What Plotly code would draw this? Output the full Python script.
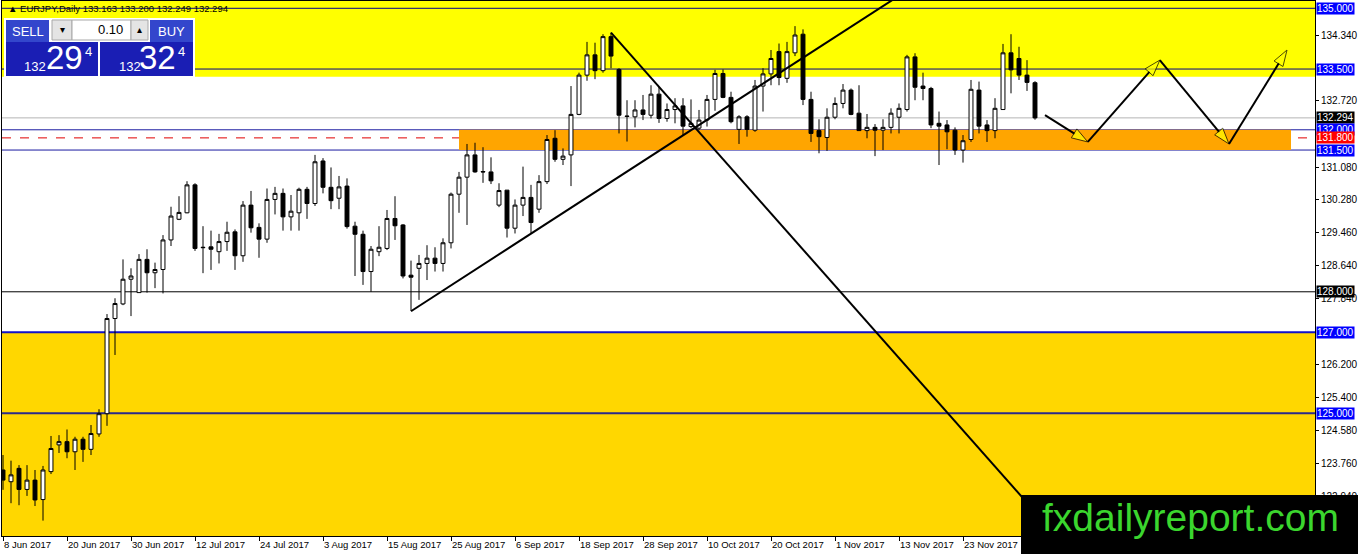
import plotly.graph_objects as go

# ---------------- data ----------------
opens = [123.60, 123.31, 123.64, 123.12, 123.35, 122.87, 123.56, 124.22, 124.30, 124.05,
         124.36, 124.11, 124.49, 124.99, 127.34, 127.70, 128.31, 127.98, 128.80, 128.47,
         128.55, 129.28, 129.79, 129.95, 130.64, 129.10, 129.11, 128.99, 129.24, 129.48,
         128.89, 130.14, 129.59, 129.30, 130.28, 130.43, 129.85, 129.95, 130.53, 130.18,
         131.23, 130.58, 130.31, 130.61, 129.62, 129.42, 128.50, 128.99, 129.07, 129.81,
         129.65, 128.41, 128.58, 128.70, 128.83, 128.70, 129.21, 130.41, 130.83, 131.38,
         130.97, 130.96, 130.14, 130.51, 129.57, 130.14, 130.33, 130.04, 130.72, 131.79,
         131.27, 131.38, 132.38, 133.35, 133.85, 133.46, 134.30, 133.49, 132.34, 132.32,
         132.49, 132.36, 132.88, 132.28, 132.50, 132.59, 132.08, 132.04, 132.24, 132.75,
         133.39, 132.80, 132.01, 132.32, 131.99, 133.08, 133.38, 133.93, 133.27, 133.90,
         134.36, 132.75, 131.98, 131.81, 132.31, 132.65, 132.98, 132.41, 131.98, 132.06,
         131.99, 132.06, 132.31, 132.50, 133.80, 133.08, 133.02, 132.16, 132.12, 131.99,
         131.50, 131.76, 132.98, 132.12, 131.98, 132.50, 133.90, 133.76, 133.35, 133.163]
highs = [123.97, 123.83, 123.72, 123.72, 123.60, 123.70, 124.44, 124.46, 124.60, 124.42,
         124.42, 124.71, 125.10, 127.45, 127.84, 128.80, 128.58, 128.93, 129.05, 128.72,
         129.40, 130.10, 130.36, 130.73, 130.68, 129.62, 129.51, 129.43, 129.73, 129.54,
         130.24, 130.49, 129.69, 130.55, 130.59, 130.55, 130.39, 130.57, 130.59, 131.38,
         131.30, 131.07, 130.86, 130.80, 129.73, 129.51, 129.13, 129.62, 130.02, 130.36,
         129.67, 128.77, 128.91, 129.15, 129.10, 129.32, 130.45, 130.96, 131.65, 131.68,
         131.57, 131.32, 130.68, 130.51, 130.28, 131.09, 130.64, 130.88, 131.87, 131.99,
         131.54, 133.08, 133.41, 134.17, 134.15, 134.36, 134.40, 133.52, 132.73, 132.73,
         132.86, 133.10, 133.06, 132.65, 132.78, 132.78, 132.75, 132.49, 132.86, 133.48,
         133.49, 132.94, 132.36, 132.36, 133.23, 133.52, 133.97, 134.13, 134.17, 134.56,
         134.48, 132.94, 132.26, 132.53, 132.80, 133.13, 133.02, 133.10, 132.39, 132.14,
         132.26, 132.53, 132.65, 133.85, 133.89, 133.41, 133.06, 132.45, 132.24, 132.06,
         131.87, 133.23, 133.19, 132.24, 132.78, 134.12, 134.36, 134.05, 133.72, 133.200]
lows = [123.11, 122.78, 122.73, 122.96, 122.71, 122.35, 123.50, 124.02, 123.89, 123.60,
        123.80, 123.97, 124.42, 124.69, 126.44, 127.67, 127.40, 127.98, 127.98, 128.09,
        127.96, 129.13, 129.77, 129.94, 129.01, 128.46, 128.54, 128.70, 129.01, 128.54,
        128.74, 129.46, 128.84, 129.21, 129.91, 129.51, 129.51, 129.51, 129.80, 130.12,
        130.43, 130.04, 130.04, 129.56, 128.39, 128.17, 128.00, 128.88, 129.03, 129.28,
        128.33, 127.53, 127.80, 128.29, 128.50, 128.50, 129.07, 129.95, 129.65, 130.94,
        130.69, 130.66, 130.09, 129.34, 129.44, 129.87, 129.44, 129.95, 130.66, 131.21,
        131.13, 130.61, 132.36, 133.21, 133.25, 133.41, 133.52, 131.91, 131.71, 132.06,
        132.24, 132.28, 132.17, 132.20, 132.16, 131.85, 132.04, 131.99, 132.08, 132.47,
        132.78, 132.16, 131.65, 131.83, 131.95, 132.45, 133.10, 133.10, 133.16, 133.82,
        132.61, 131.70, 131.42, 131.48, 132.26, 132.53, 132.36, 131.97, 131.79, 131.35,
        131.50, 131.91, 131.91, 132.45, 132.73, 132.73, 132.04, 131.13, 131.52, 131.38,
        131.19, 131.70, 131.91, 131.70, 131.79, 132.49, 132.90, 133.23, 132.96, 132.249]
closes = [123.35, 123.48, 123.12, 123.35, 122.86, 123.60, 124.13, 124.30, 124.05, 124.36,
          124.11, 124.50, 124.99, 127.34, 127.71, 128.31, 128.39, 128.80, 128.47, 128.55,
          129.28, 129.87, 129.96, 130.64, 129.07, 129.09, 129.05, 129.24, 129.47, 128.89,
          130.14, 129.58, 129.30, 130.28, 130.43, 129.85, 129.99, 130.53, 130.18, 131.21,
          130.58, 130.25, 130.59, 129.61, 129.42, 128.50, 129.05, 129.10, 129.81, 129.63,
          128.39, 128.36, 128.70, 128.83, 128.70, 129.21, 130.41, 130.83, 131.38, 130.96,
          130.96, 130.74, 130.50, 129.57, 130.14, 130.33, 129.71, 130.72, 131.76, 131.27,
          131.35, 132.38, 133.35, 133.85, 133.46, 134.30, 133.82, 132.36, 132.33, 132.49,
          132.38, 132.88, 132.28, 132.50, 132.59, 132.09, 132.16, 132.24, 132.75, 133.39,
          132.80, 132.20, 132.32, 132.01, 133.08, 133.38, 133.76, 133.29, 133.93, 134.34,
          132.75, 131.91, 131.83, 132.31, 132.65, 132.98, 132.38, 131.98, 132.06, 131.99,
          132.06, 132.41, 132.53, 133.80, 133.05, 133.02, 132.12, 132.09, 131.95, 131.50,
          131.73, 133.00, 132.09, 131.98, 132.53, 133.90, 133.48, 133.35, 133.17, 132.294]

tick_positions = [0, 8, 16, 24, 32, 40, 48, 56, 64, 72, 80, 88, 96, 104, 112, 120]
tick_labels = ["8 Jun 2017", "20 Jun 2017", "30 Jun 2017", "12 Jul 2017", "24 Jul 2017",
               "3 Aug 2017", "15 Aug 2017", "25 Aug 2017", "6 Sep 2017", "18 Sep 2017",
               "28 Sep 2017", "10 Oct 2017", "20 Oct 2017", "1 Nov 2017", "13 Nov 2017",
               "23 Nov 2017"]
price_ticks = [134.340, 132.720, 131.080, 130.280, 129.460, 128.640, 127.840,
               126.200, 125.400, 124.580, 123.760, 122.940]

# horizontal levels
level_prices = [135.000, 133.500, 132.294, 132.000, 131.800, 131.500, 128.000, 127.000, 125.000]
level_colors = ["#00008B", "#00008B", "#B4B4B4", "#1a1aa0", "#E00000", "#1a1aa0", "#000000", "#1010C8", "#2a2a8a"]
level_widths = [1, 1, 1, 1, 1, 1, 1, 2, 2]
level_dash = ["solid", "solid", "solid", "solid", "dash", "solid", "solid", "solid", "solid"]
label_bg = ["#0000FF", "#0000FF", "#000000", "#0000FF", "#FF0000", "#0000FF", "#000000", "#0000FF", "#0000FF"]

# zones
top_zone = (133.31, 135.18)
support_zone = (131.50, 132.00)
support_zone_x = (57, 161)
low_zone = (121.97, 127.00)

# drawn trend lines (bar index, price)
up_line_x = [51, 112]
up_line_y = [127.52, 135.31]
down_line_x = [76, 132]
down_line_y = [134.40, 121.90]
zig_x = [130.25, 135.6, 144.6, 153.25, 160.5]
zig_y = [132.36, 131.70, 133.72, 131.65, 133.97]

header = "▲ EURJPY,Daily 133.163 133.200 132.249 132.294"

# ---------------- figure ----------------
W, H = 1358, 554
PX0, PX1, PY0, PY1 = 2, 1315, 1, 536
Y_RANGE = [121.97, 135.18]
X_RANGE = [-0.125, 164.0]


def px(x):
    return (x - PX0) / (PX1 - PX0)


def py(y):
    return (PY1 - y) / (PY1 - PY0)


fig = go.Figure()
fig.add_trace(go.Candlestick(
    x=list(range(len(opens))), open=opens, high=highs, low=lows, close=closes,
    increasing=dict(line=dict(color="black", width=1), fillcolor="white"),
    decreasing=dict(line=dict(color="black", width=1), fillcolor="black"),
    whiskerwidth=0, hoverinfo="skip", showlegend=False))

fig.add_trace(go.Scatter(x=up_line_x, y=up_line_y, mode="lines",
                         line=dict(color="black", width=2), hoverinfo="skip", showlegend=False))
fig.add_trace(go.Scatter(x=down_line_x, y=down_line_y, mode="lines",
                         line=dict(color="black", width=2), hoverinfo="skip", showlegend=False))
for k in range(len(zig_x) - 1):
    fig.add_trace(go.Scatter(
        x=zig_x[k:k + 2], y=zig_y[k:k + 2], mode="lines+markers",
        line=dict(color="black", width=2),
        marker=dict(symbol="arrow", size=[0, 17], angleref="previous",
                    color="#FFFF00", line=dict(color="black", width=1)),
        hoverinfo="skip", showlegend=False))

shapes = []
# zones
shapes.append(dict(type="rect", xref="paper", yref="y", x0=0, x1=1, y0=top_zone[0], y1=top_zone[1],
                   fillcolor="#FFFF00", line=dict(width=0), layer="below"))
shapes.append(dict(type="rect", xref="paper", yref="y", x0=0, x1=1, y0=low_zone[0], y1=low_zone[1],
                   fillcolor="#FFD700", line=dict(width=0), layer="below"))
shapes.append(dict(type="rect", xref="x", yref="y", x0=support_zone_x[0], x1=support_zone_x[1],
                   y0=support_zone[0], y1=support_zone[1],
                   fillcolor="#FFA500", line=dict(width=0), layer="below"))
for p, c, w, d in zip(level_prices, level_colors, level_widths, level_dash):
    shapes.append(dict(type="line", xref="paper", yref="y", x0=0, x1=1, y0=p, y1=p,
                       line=dict(color=c, width=w, dash=d), layer="below"))


# trading panel (decoration)
def prect(x0, y0, x1, y1, fill, lc=None, lw=0):
    return dict(type="rect", xref="paper", yref="paper", x0=px(x0), x1=px(x1), y0=py(y1), y1=py(y0),
                fillcolor=fill, line=dict(color=lc or fill, width=lw), layer="above")


shapes += [
    prect(4, 18, 195, 78, "white"),
    prect(6, 20, 49, 42, "#3346CC"),
    prect(150, 20, 193, 42, "#3346CC"),
    prect(52, 20, 72, 40, "#E4E4E4", "#A8A8A8", 1),
    prect(72, 20, 131, 40, "white", "#A8A8A8", 1),
    prect(131, 20, 148, 40, "#E4E4E4", "#A8A8A8", 1),
    prect(6, 42, 98, 76, "#1A1EB4"),
    prect(100, 42, 193, 76, "#1A1EB4"),
    # watermark box
    prect(1021, 495, 1358, 554, "#000000"),
]

ann = []
for p, bg in zip(level_prices, label_bg):
    ann.append(dict(xref="paper", yref="y", x=1, y=p, xanchor="left", yanchor="middle", xshift=1,
                    text=f"{p:.3f}", showarrow=False, bgcolor=bg, borderpad=0,
                    font=dict(family="Liberation Sans", size=10, color="white")))


def ptext(x, y, t, size, color="white", anchor="left"):
    return dict(xref="paper", yref="paper", x=px(x), y=py(y), xanchor=anchor, yanchor="middle",
                text=t, showarrow=False, font=dict(family="Liberation Sans", size=size, color=color))


ann += [
    ptext(6, 8, header, 9.5, "black"),
    ptext(27.5, 31, "SELL", 13, anchor="center"),
    ptext(171.5, 31, "BUY", 13, anchor="center"),
    ptext(62, 30, "▾", 10, "black", "center"),
    ptext(139.5, 30, "▴", 10, "black", "center"),
    ptext(125, 30, "0.10", 13, "black", "right"),
    ptext(22, 66, "132", 13), ptext(44, 58, "29", 33), ptext(83, 51, "4", 13),
    ptext(117, 66, "132", 13), ptext(137, 58, "32", 33), ptext(176, 51, "4", 13),
    ptext(1190, 517, "fxdailyreport.com", 39, "#3BD62E", "center"),
]

fig.update_layout(
    width=W, height=H, margin=dict(l=PX0, r=W - PX1, t=PY0, b=H - PY1),
    paper_bgcolor="white", plot_bgcolor="white",
    shapes=shapes, annotations=ann, showlegend=False,
    xaxis=dict(range=X_RANGE, tickvals=tick_positions, ticktext=tick_labels,
               ticks="outside", ticklen=4, tickcolor="black", ticklabelposition="outside right",
               tickfont=dict(family="Liberation Sans", size=9.5, color="black"),
               showline=True, mirror=True, linecolor="black", linewidth=1,
               showgrid=False, zeroline=False, automargin=False,
               rangeslider=dict(visible=False), fixedrange=True),
    yaxis=dict(range=Y_RANGE, side="right", tickvals=price_ticks,
               ticktext=[f"{v:.3f}" for v in price_ticks],
               ticks="outside", ticklen=3, tickcolor="black",
               tickfont=dict(family="Liberation Sans", size=10, color="black"),
               showline=True, mirror=True, linecolor="black", linewidth=1,
               showgrid=False, zeroline=False, automargin=False, fixedrange=True),
)

fig.write_html("out.html", config={"displayModeBar": False},
               post_script="document.body.style.margin='0';document.body.style.overflow='hidden';")
